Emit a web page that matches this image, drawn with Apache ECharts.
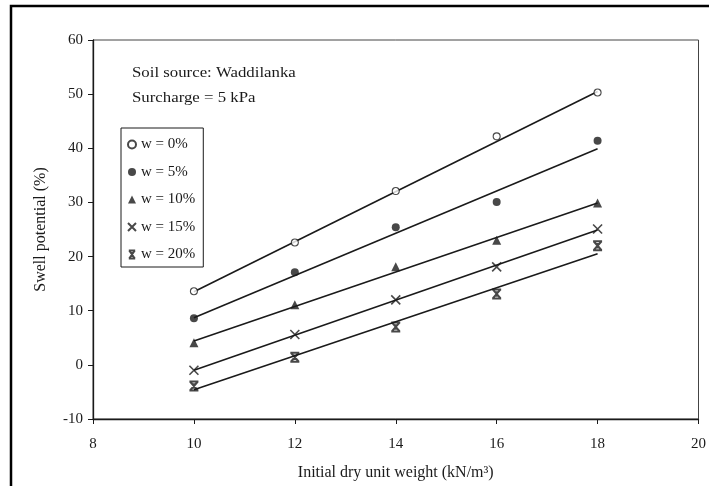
<!DOCTYPE html>
<html>
<head>
<meta charset="utf-8">
<script src="https://cdn.jsdelivr.net/npm/echarts@6/dist/echarts.min.js"></script>
<style>
  html, body { margin: 0; padding: 0; background: #fff; }
  #chart { width: 709px; height: 486px; }
</style>
</head>
<body>
<div id="chart"></div>
<script>
// Initial dry unit weight (kN/m3) at which each test was run
const dryUnitWeight = [10, 12, 14, 16, 18];

// Measured swell potential (%) for each moulding water content
const seriesNames = ['w = 0%', 'w = 5%', 'w = 10%', 'w = 15%', 'w = 20%'];
const swellW0  = [13.6, 22.6, 32.1, 42.2, 50.3];
const swellW5  = [8.6, 17.1, 25.4, 30.1, 41.4];
const swellW10 = [4.1, 11.1, 18.1, 23.0, 29.9];
const swellW15 = [-1.0, 5.6, 12.0, 18.1, 25.1];
const swellW20 = [-3.9, 1.4, 7.0, 13.1, 22.0];

// Best-fit line end values at 10 and 18 kN/m3
const fitFrom = [10, 18];
const fitStartValues = [13.5, 8.7, 4.4, -1.0, -4.6];
const fitEndValues   = [50.5, 39.9, 29.9, 24.9, 20.5];

// Axis ranges
const xMin = 8, xMax = 20, xStep = 2;
const yMin = -10, yMax = 60, yStep = 10;

const allSwell = [swellW0, swellW5, swellW10, swellW15, swellW20];

const serif = "'Liberation Serif', 'DejaVu Serif', serif";
const ink = '#1a1a1a';

const markers = [
  { symbol: 'circle', size: 7, style: { color: '#fff', borderColor: ink, borderWidth: 1.1 } },
  { symbol: 'circle', size: 8, style: { color: ink } },
  { symbol: 'triangle', size: 9, style: { color: ink } },
  { symbol: 'path://M0,0L10,10M10,0L0,10', size: 9,
    style: { color: 'rgba(0,0,0,0)', borderColor: ink, borderWidth: 1.6 } },
  { symbol: 'path://M1,0L9,0M1,10L9,10M1.5,0L8.5,10M8.5,0L1.5,10M5,2L5,8', size: 9,
    style: { color: 'rgba(0,0,0,0)', borderColor: ink, borderWidth: 2 } }
];

const series = [];
seriesNames.forEach((name, i) => {
  series.push({
    name: name,
    type: 'scatter',
    data: dryUnitWeight.map((x, k) => [x, allSwell[i][k]]),
    symbol: markers[i].symbol,
    symbolSize: markers[i].size,
    itemStyle: markers[i].style,
    z: 5
  });
  series.push({
    type: 'line',
    data: [[fitFrom[0], fitStartValues[i]], [fitFrom[1], fitEndValues[i]]],
    showSymbol: false,
    symbol: 'none',
    silent: true,
    lineStyle: { color: ink, width: 1.6 },
    z: 3
  });
});

const chart = echarts.init(document.getElementById('chart'), null, { renderer: 'canvas' });
chart.setOption({
  backgroundColor: '#fff',
  animation: false,
  grid: {
    left: 93, right: 6, top: 40, bottom: 67,
    show: true,
    borderColor: '#444',
    borderWidth: 1
  },
  legend: {
    data: seriesNames,
    orient: 'vertical',
    left: 121,
    top: 128,
    padding: [9, 8, 5, 6],
    itemGap: 12.5,
    itemWidth: 8,
    itemHeight: 8,
    borderColor: ink,
    borderWidth: 1,
    backgroundColor: '#fff',
    textStyle: { fontFamily: serif, fontSize: 15, color: ink },
    selectedMode: false
  },
  xAxis: {
    type: 'value',
    min: xMin, max: xMax, interval: xStep,
    name: 'Initial dry unit weight (kN/m³)',
    nameLocation: 'middle',
    nameGap: 46,
    nameTextStyle: { fontFamily: serif, fontSize: 16, color: ink },
    axisLine: { show: true, onZero: false, lineStyle: { color: ink, width: 1.3 } },
    axisTick: { show: true, length: 5, lineStyle: { color: ink } },
    axisLabel: { fontFamily: serif, fontSize: 15, color: ink, margin: 18 },
    splitLine: { show: false }
  },
  yAxis: {
    type: 'value',
    min: yMin, max: yMax, interval: yStep,
    name: 'Swell potential (%)',
    nameLocation: 'middle',
    nameGap: 44,
    nameTextStyle: { fontFamily: serif, fontSize: 16, color: ink },
    axisLine: { show: true, onZero: false, lineStyle: { color: ink, width: 1.3 } },
    axisTick: { show: true, length: 5, lineStyle: { color: ink } },
    axisLabel: { fontFamily: serif, fontSize: 15, color: ink, margin: 10 },
    splitLine: { show: false }
  },
  graphic: [
    {
      type: 'rect',
      shape: { x: 11, y: 6, width: 800, height: 600 },
      style: { fill: 'none', stroke: '#000', lineWidth: 2.5 },
      silent: true
    },
    {
      type: 'text', x: 132, y: 66, scaleX: 1.12,
      style: { text: 'Soil source: Waddilanka', font: '15px ' + serif, fill: ink }
    },
    {
      type: 'text', x: 132, y: 91, scaleX: 1.12,
      style: { text: 'Surcharge = 5 kPa', font: '15px ' + serif, fill: ink }
    }
  ],
  series: series
});
</script>
</body>
</html>
